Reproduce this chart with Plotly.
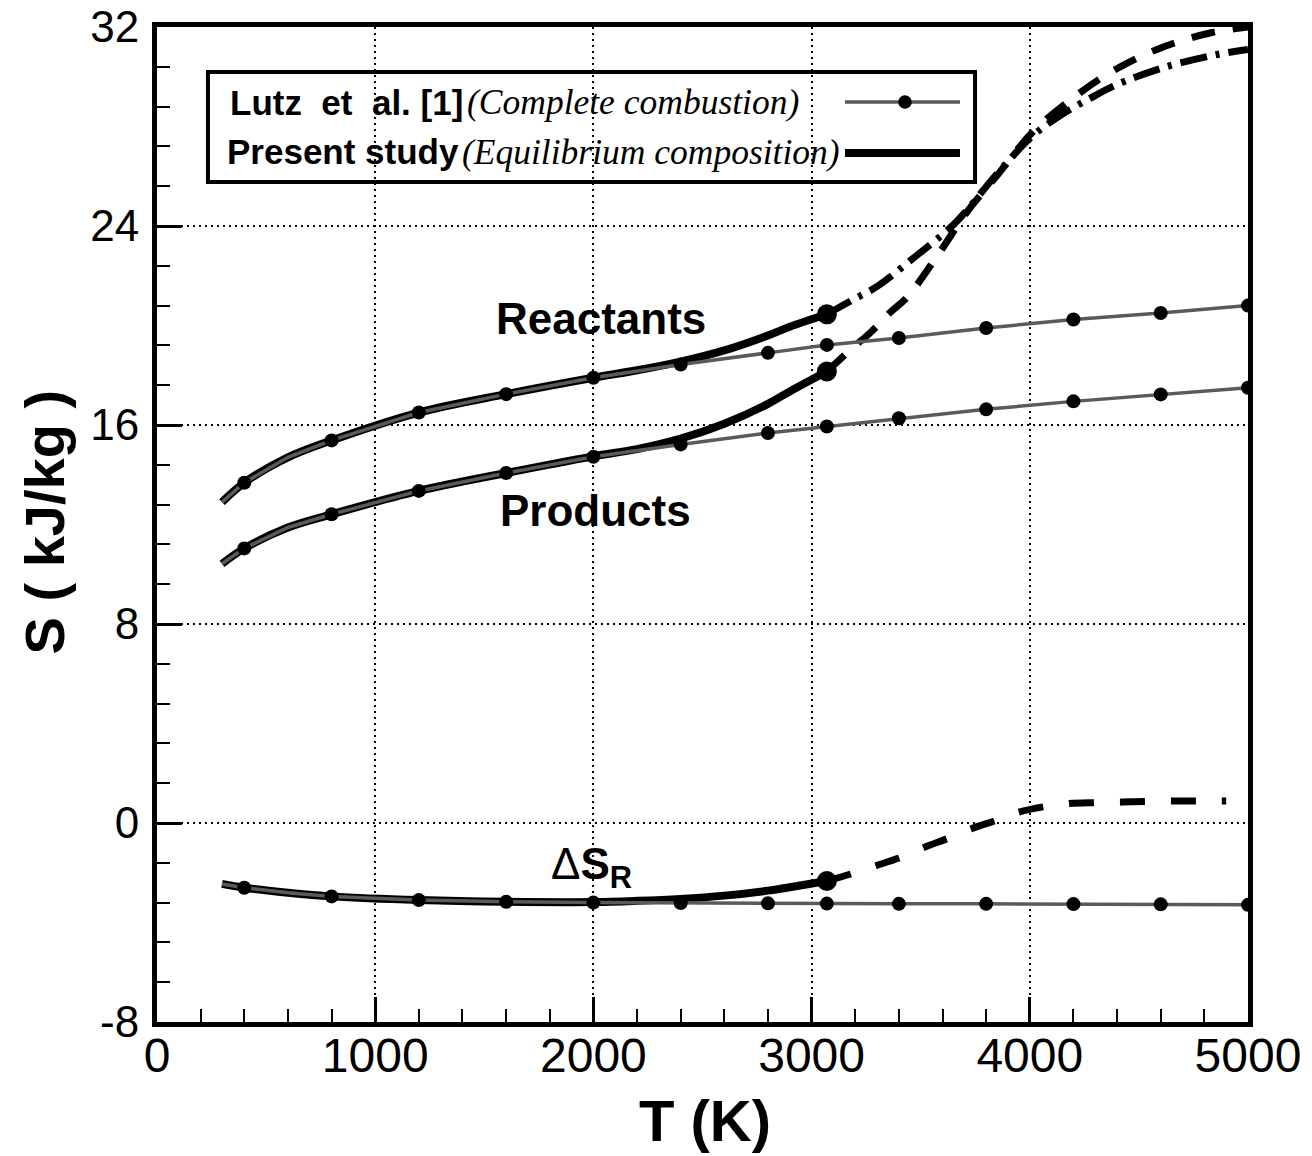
import plotly.graph_objects as go

# ---------------- data ----------------
# Lutz et al. [1] (complete combustion)
lutz_T = [298, 400, 600, 800, 1200, 1600, 2000, 2400, 2800, 3070, 3400, 3800, 4200, 4600, 5000]
lutz_react = [12.9, 13.68, 14.7, 15.38, 16.5, 17.24, 17.9, 18.43, 18.9, 19.22, 19.5, 19.9, 20.24, 20.5, 20.8]
lutz_prod = [10.42, 11.04, 11.88, 12.41, 13.35, 14.07, 14.72, 15.22, 15.68, 15.94, 16.27, 16.63, 16.95, 17.23, 17.5]
lutz_dS = [-2.45, -2.6, -2.8, -2.95, -3.1, -3.17, -3.2, -3.22, -3.23, -3.24, -3.25, -3.25, -3.26, -3.27, -3.29]
lutz_no_marker = [298, 600]

# Present study (equilibrium composition), solid part
ps_T = [298, 400, 600, 800, 1200, 1600, 2000, 2200, 2400, 2600, 2800, 2900, 3070]
ps_react = [12.9, 13.68, 14.7, 15.38, 16.5, 17.24, 17.9, 18.2, 18.55, 19.0, 19.6, 19.95, 20.45]
ps_prod = [10.42, 11.04, 11.88, 12.41, 13.35, 14.07, 14.74, 15.03, 15.45, 16.05, 16.85, 17.35, 18.15]
ps_dS = [-2.45, -2.6, -2.8, -2.95, -3.1, -3.17, -3.18, -3.13, -3.05, -2.92, -2.72, -2.58, -2.33]

# Present study extensions beyond 3070 K
ext_react_T = [3070, 3190, 3300, 3475, 3660, 3850, 4010, 4150, 4280, 4390, 4610, 4850, 5000]
ext_react = [20.45, 21.04, 21.57, 22.77, 24.14, 26.1, 27.6, 28.5, 29.15, 29.65, 30.36, 30.88, 31.1]
ext_prod_T = [3070, 3180, 3270, 3360, 3440, 3580, 3710, 3860, 4010, 4200, 4390, 4600, 4830, 5000]
ext_prod = [18.15, 19.04, 19.72, 20.52, 21.16, 22.85, 24.54, 26.14, 27.75, 29.16, 30.28, 31.16, 31.77, 32.0]
ext_dS_T = [3070, 3180, 3290, 3400, 3510, 3630, 3730, 3850, 3950, 4070, 4180, 4300, 4420, 4540, 4660, 4780, 4900]
ext_dS = [-2.33, -2.05, -1.73, -1.41, -1.0, -0.6, -0.24, 0.12, 0.44, 0.66, 0.78, 0.82, 0.84, 0.87, 0.88, 0.88, 0.88]

y_tickvals = [-8, 0, 8, 16, 24, 32]
y_ticktext = ["-8", "0", "8", "16", "24", "32"]
x_tickvals = [0, 1000, 2000, 3000, 4000, 5000]
x_ticktext = ["0", "1000", "2000", "3000", "4000", "5000"]

labels = ["<b>Reactants</b>", "<b>Products</b>", "Δ<b>S<sub>R</sub></b>"]
label_T = [2037, 2009, 1990]
label_S = [20.3, 12.57, -1.75]

GRAY = "#5a5a5a"
SANS = "Liberation Sans, Arial, sans-serif"
SERIF = "Liberation Serif, Times New Roman, serif"

fig = go.Figure()

# extensions (dashed / dash-dot)
fig.add_trace(go.Scatter(x=ext_prod_T, y=ext_prod, mode="lines", line_shape="spline",
                         line=dict(color="black", width=7, dash="24px,18px")))
fig.add_trace(go.Scatter(x=ext_react_T, y=ext_react, mode="lines", line_shape="spline",
                         line=dict(color="black", width=7, dash="27px,9px,4px,9px")))
fig.add_trace(go.Scatter(x=ext_dS_T, y=ext_dS, mode="lines", line_shape="spline",
                         line=dict(color="black", width=7, dash="25px,26px")))

# present study solid lines
for ys in (ps_react, ps_prod, ps_dS):
    fig.add_trace(go.Scatter(x=ps_T, y=ys, mode="lines", line_shape="spline",
                             line=dict(color="black", width=8)))

# Lutz lines on top
for ys in (lutz_react, lutz_prod, lutz_dS):
    fig.add_trace(go.Scatter(x=lutz_T, y=ys, mode="lines",
                             line=dict(color=GRAY, width=3.5)))
    mT = [t for t in lutz_T if t not in lutz_no_marker]
    mS = [s for t, s in zip(lutz_T, ys) if t not in lutz_no_marker]
    fig.add_trace(go.Scatter(x=mT, y=mS, mode="markers",
                             marker=dict(color="black", size=14, line=dict(width=0))))

# present study end points
fig.add_trace(go.Scatter(x=[ps_T[-1]] * 3, y=[ps_react[-1], ps_prod[-1], ps_dS[-1]], mode="markers",
                         marker=dict(color="black", size=20, line=dict(width=0))))

# curve labels
for txt, t, s in zip(labels, label_T, label_S):
    fig.add_annotation(x=t, y=s, text=txt, showarrow=False,
                       font=dict(family=SANS, size=44, color="black"))

# axis titles
fig.add_annotation(xref="paper", yref="paper", x=0.502, y=-0.099, xanchor="center", yanchor="middle",
                   text="<b>T (K)</b>", showarrow=False,
                   font=dict(family=SANS, size=58, color="black"))
fig.add_annotation(xref="paper", yref="paper", x=-0.1027, y=0.503, xanchor="center", yanchor="middle",
                   text="<b>S ( kJ/kg )</b>", textangle=-90, showarrow=False,
                   font=dict(family=SANS, size=56, color="black"))

# hand-made legend (text left, symbol right, as in reference)
fig.add_shape(type="rect", xref="paper", yref="paper", x0=0.0467, x1=0.7498, y0=0.8442, y1=0.9548,
              line=dict(color="black", width=4), fillcolor="rgba(0,0,0,0)")
fig.add_annotation(xref="paper", yref="paper", x=0.0651, y=0.9246, xanchor="left", yanchor="middle",
                   text="<b>Lutz\u00a0 et\u00a0 al. [1]</b>", showarrow=False,
                   font=dict(family=SANS, size=35, color="black"))
fig.add_annotation(xref="paper", yref="paper", x=0.2823, y=0.9246, xanchor="left", yanchor="middle",
                   text="<i>(Complete combustion)</i>", showarrow=False,
                   font=dict(family=SERIF, size=35.5, color="black"))
fig.add_annotation(xref="paper", yref="paper", x=0.0623, y=0.8744, xanchor="left", yanchor="middle",
                   text="<b>Present study</b>", showarrow=False,
                   font=dict(family=SANS, size=35, color="black"))
fig.add_annotation(xref="paper", yref="paper", x=0.2777, y=0.8744, xanchor="left", yanchor="middle",
                   text="<i>(Equilibrium composition)</i>", showarrow=False,
                   font=dict(family=SERIF, size=35.5, color="black"))
fig.add_shape(type="line", xref="paper", yref="paper", x0=0.6306, x1=0.736, y0=0.9246, y1=0.9246,
              line=dict(color=GRAY, width=3.5))
fig.add_shape(type="circle", xref="paper", yref="paper", x0=0.6856 - 0.0062, x1=0.6856 + 0.0062,
              y0=0.9246 - 0.0068, y1=0.9246 + 0.0068, line=dict(width=0), fillcolor="black")
fig.add_shape(type="line", xref="paper", yref="paper", x0=0.6306, x1=0.736, y0=0.8734, y1=0.8734,
              line=dict(color="black", width=8))

axis_common = dict(showline=True, linewidth=5, linecolor="black", mirror=True,
                   ticks="inside", tickcolor="black", tickwidth=3, ticklen=25,
                   showgrid=True, gridcolor="black", gridwidth=1.5, griddash="2px,4px",
                   zeroline=False, tickmode="array", automargin=False)

fig.update_xaxes(range=[0, 5000], tickvals=x_tickvals, ticktext=x_ticktext,
                 tickfont=dict(family=SANS, size=48, color="black"), ticklabelstandoff=-13,
                 minor=dict(tickmode="linear", tick0=0, dtick=200, ticks="inside", ticklen=13,
                            tickwidth=1.5, tickcolor="black", showgrid=False),
                 **axis_common)
fig.update_yaxes(range=[-8, 32], tickvals=y_tickvals, ticktext=y_ticktext,
                 tickfont=dict(family=SANS, size=44, color="black"), ticklabelstandoff=4,
                 minor=dict(tickmode="linear", tick0=-8, dtick=1.6, ticks="inside", ticklen=13,
                            tickwidth=1.5, tickcolor="black", showgrid=False),
                 **axis_common)

fig.update_layout(width=1312, height=1156, margin=dict(l=157, r=64, t=27, b=134),
                  plot_bgcolor="white", paper_bgcolor="white", showlegend=False)

fig.write_html("out.html")
